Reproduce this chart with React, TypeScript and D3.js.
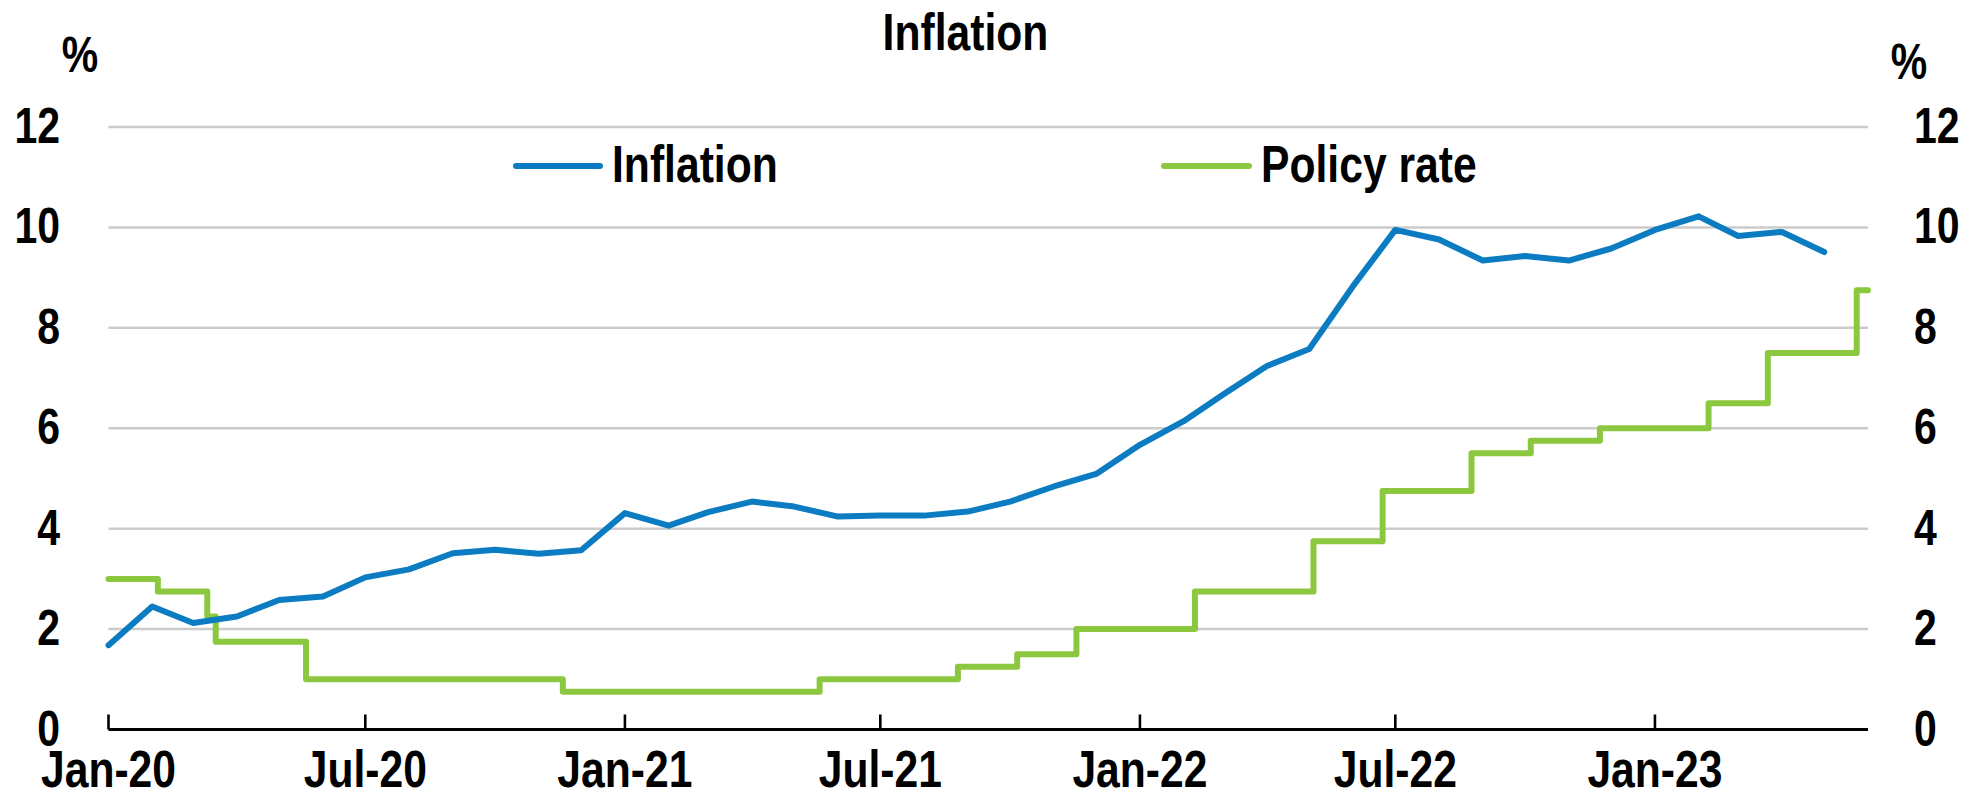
import React from "react";
import * as d3 from "d3";

const W = 1977;
const H = 797;

const inflationStart = "2020-01";
const inflationValues = [
  1.68, 2.45, 2.12, 2.25, 2.58, 2.65, 3.03, 3.19, 3.51, 3.58, 3.5, 3.57,
  4.31, 4.06, 4.33, 4.54, 4.44, 4.24, 4.26, 4.26, 4.34, 4.54, 4.84, 5.09,
  5.67, 6.14, 6.67, 7.24, 7.58, 8.83, 9.95, 9.76, 9.34, 9.43, 9.34, 9.58,
  9.95, 10.22, 9.83, 9.91, 9.51,
];

const policyDates = [
  "2020-01-01", "2020-02-05", "2020-03-11", "2020-03-17", "2020-05-20",
  "2020-11-18", "2021-05-19", "2021-08-25", "2021-10-06", "2021-11-17",
  "2022-02-09", "2022-05-04", "2022-06-22", "2022-08-24", "2022-10-05",
  "2022-11-23", "2023-02-08", "2023-03-22", "2023-05-24", "2023-06-01",
];
const policyRates = [
  3.0, 2.75, 2.25, 1.75, 1.0, 0.75, 1.0, 1.25, 1.5, 2.0, 2.75, 3.75, 4.75,
  5.5, 5.75, 6.0, 6.5, 7.5, 8.75, 8.75,
];

const yTicks = [0, 2, 4, 6, 8, 10, 12];
const xTickDates = [
  "2020-01-01", "2020-07-01", "2021-01-01", "2021-07-01",
  "2022-01-01", "2022-07-01", "2023-01-01",
];
const seriesNames = ["Inflation", "Policy rate"];
const title = "Inflation";

const BLUE = "#0B7CC2";
const GREEN = "#8CC83F";
const FONT = "'Liberation Sans', Arial, sans-serif";
const SX = 0.82;

const parse = d3.utcParse("%Y-%m-%d");

function T({
  x,
  y,
  size,
  anchor = "start",
  children,
}: {
  x: number;
  y: number;
  size: number;
  anchor?: string;
  children: React.ReactNode;
}) {
  return (
    <text
      transform={`translate(${x},${y}) scale(${SX},1)`}
      fontSize={size}
      textAnchor={anchor}
      fill="#000"
    >
      {children}
    </text>
  );
}

export default function App() {
  const x = d3
    .scaleUtc()
    .domain([parse("2020-01-01")!, parse("2023-06-01")!])
    .range([108.5, 1868]);
  const y = d3.scaleLinear().domain([0, 12]).range([729.5, 127]);

  const start = d3.utcParse("%Y-%m")(inflationStart)!;
  const infl = inflationValues.map((v, i) => ({
    d: d3.utcMonth.offset(start, i),
    v,
  }));
  const pol = policyDates.map((s, i) => ({ d: parse(s)!, v: policyRates[i] }));

  const line = d3
    .line<{ d: Date; v: number }>()
    .x((p) => x(p.d))
    .y((p) => y(p.v));
  const stepLine = d3
    .line<{ d: Date; v: number }>()
    .x((p) => x(p.d))
    .y((p) => y(p.v))
    .curve(d3.curveStepAfter);

  const fmt = d3.utcFormat("%b-%y");
  const [x0, x1] = x.range();

  return (
    <svg
      width={W}
      height={H}
      style={{ position: "absolute", left: 0, top: 0, background: "#fff" }}
      fontFamily={FONT}
      fontWeight="bold"
    >
      {/* gridlines */}
      {yTicks
        .filter((t) => t > 0)
        .map((t) => (
          <line
            key={t}
            x1={x0}
            x2={x1}
            y1={y(t)}
            y2={y(t)}
            stroke="#CBCBCB"
            strokeWidth={2.5}
          />
        ))}
      {/* y labels */}
      {yTicks.map((t) => (
        <g key={"yl" + t}>
          <T x={60} y={y(t) + 16} size={50} anchor="end">{t}</T>
          <T x={1914} y={y(t) + 16} size={50}>{t}</T>
        </g>
      ))}
      <T x={80} y={72} size={50} anchor="middle">%</T>
      <T x={1909} y={79} size={50} anchor="middle">%</T>
      <T x={965.5} y={50} size={52} anchor="middle">{title}</T>

      {/* lines */}
      <path d={stepLine(pol)!} fill="none" stroke={GREEN} strokeWidth={6} strokeLinejoin="round" strokeLinecap="round" />
      <path d={line(infl)!} fill="none" stroke={BLUE} strokeWidth={6} strokeLinejoin="round" strokeLinecap="round" />

      {/* x axis */}
      <line x1={x0} x2={x1} y1={y(0)} y2={y(0)} stroke="#000" strokeWidth={3.2} />
      {xTickDates.map((s) => {
        const xd = x(parse(s)!);
        return (
          <g key={s}>
            <line x1={xd} x2={xd} y1={y(0)} y2={y(0) - 15} stroke="#000" strokeWidth={2.6} />
            <T x={xd} y={787} size={52} anchor="middle">{fmt(parse(s)!)}</T>
          </g>
        );
      })}

      {/* legend */}
      <line x1={516} x2={600} y1={166} y2={166} stroke={BLUE} strokeWidth={6} strokeLinecap="round" />
      <T x={612} y={182} size={52}>{seriesNames[0]}</T>
      <line x1={1164} x2={1249} y1={166} y2={166} stroke={GREEN} strokeWidth={6} strokeLinecap="round" />
      <T x={1261} y={182} size={52}>{seriesNames[1]}</T>
    </svg>
  );
}
